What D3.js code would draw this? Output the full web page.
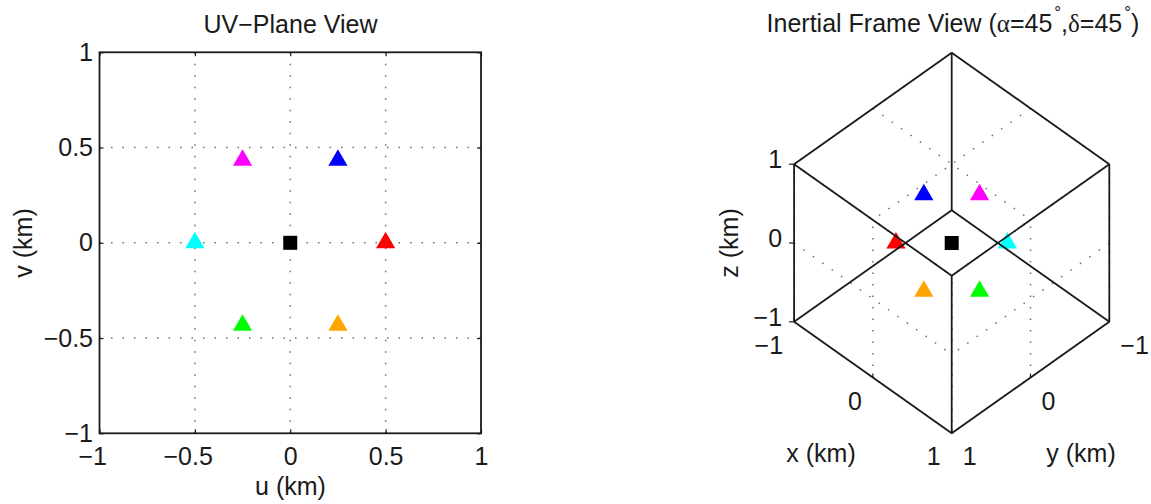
<!DOCTYPE html>
<html>
<head>
<meta charset="utf-8">
<script src="https://cdn.jsdelivr.net/npm/d3@7"></script>
<style>
  html, body { margin: 0; padding: 0; background: #fff; }
  svg { display: block; }
</style>
</head>
<body>
<svg id="chart" width="1151" height="504"></svg>
<script>
/* data */
// antenna positions in the uv plane (km), reference antenna first
const uValues = [0, 0.5, 0.25, -0.25, -0.5, -0.25, 0.25];
const vValues = [0, 0, 0.433, 0.433, 0, -0.433, -0.433];
const markerColors = ['#000000', '#ff0000', '#0000ff', '#ff00ff', '#00ffff', '#00ff00', '#ffa500'];
const markerShapes = ['square', 'triangle', 'triangle', 'triangle', 'triangle', 'triangle', 'triangle'];

const uvTicks = [-1, -0.5, 0, 0.5, 1];
const xyzTicks = [-1, 0, 1];

// source direction (deg)
const alphaDeg = 45;
const deltaDeg = 45;

/* common options */
const fontFamily = '"Liberation Sans", Arial, Helvetica, sans-serif';
const fontSize = 25;
const textColor = '#1a1a1a';
const lineColor = '#1a1a1a';
const gridColor = '#707070';
const fmt = d3.format('');

const stations = uValues.map((u, i) => ({u, v: vValues[i], color: markerColors[i], shape: markerShapes[i]}));

const triangle = d3.symbol(d3.symbolTriangle, 160);
const square = d3.symbol(d3.symbolSquare, 196);
const markerPath = d => (d.shape === 'square' ? square : triangle)();

const svg = d3.select('#chart');

/***********************************
  left : UV-plane view
***********************************/
const uvBox = {left: 99.5, right: 481, top: 52.3, bottom: 433.3};

const uvX = d3.scaleLinear().domain([-1, 1]).range([uvBox.left, uvBox.right]);
const uvY = d3.scaleLinear().domain([-1, 1]).range([uvBox.bottom, uvBox.top]);

const uvG = svg.append('g');

// dotted grid
const inner = uvTicks.filter(d => Math.abs(d) < 1);
const grid = uvG.append('g')
  .attr('stroke', gridColor)
  .attr('stroke-width', 1.5)
  .attr('stroke-dasharray', '1.5 10');
grid.selectAll('.gx').data(inner).join('line')
  .attr('x1', d => uvX(d)).attr('x2', d => uvX(d))
  .attr('y1', uvY(1)).attr('y2', uvY(-1));
grid.selectAll('.gy').data(inner).join('line')
  .attr('class', 'gy')
  .attr('y1', d => uvY(d)).attr('y2', d => uvY(d))
  .attr('x1', uvX(-1)).attr('x2', uvX(1));

const styleAxis = g => g
  .attr('font-size', fontSize)
  .attr('font-family', fontFamily)
  .attr('color', textColor)
  .call(g => g.select('.domain').remove())
  .call(g => g.selectAll('.tick line').attr('stroke-width', 1.2));

// axes (ticks inward like matlab)
uvG.append('g')
  .attr('transform', `translate(0,${uvBox.bottom})`)
  .call(d3.axisBottom(uvX).tickValues(uvTicks).tickFormat(fmt).tickSizeInner(-4).tickSizeOuter(0).tickPadding(14))
  .call(styleAxis)
  .call(g => g.selectAll('.tick text').filter(d => d < 0).attr('dx', '-0.29em'));

uvG.append('g')
  .attr('transform', `translate(${uvBox.left},0)`)
  .call(d3.axisLeft(uvY).tickValues(uvTicks).tickFormat(fmt).tickSizeInner(-4).tickSizeOuter(0).tickPadding(6.5))
  .call(styleAxis);

uvG.append('g')
  .attr('transform', `translate(0,${uvBox.top})`)
  .call(d3.axisTop(uvX).tickValues(uvTicks).tickFormat('').tickSizeInner(-4).tickSizeOuter(0))
  .call(styleAxis);

uvG.append('g')
  .attr('transform', `translate(${uvBox.right},0)`)
  .call(d3.axisRight(uvY).tickValues(uvTicks).tickFormat('').tickSizeInner(-4).tickSizeOuter(0))
  .call(styleAxis);

// markers
uvG.append('g').selectAll('path').data(stations).join('path')
  .attr('d', markerPath)
  .attr('fill', d => d.color)
  .attr('transform', d => `translate(${uvX(d.u)},${uvY(d.v)})`);

// box
uvG.append('rect')
  .attr('x', uvBox.left).attr('y', uvBox.top)
  .attr('width', uvBox.right - uvBox.left).attr('height', uvBox.bottom - uvBox.top)
  .attr('fill', 'none').attr('stroke', lineColor).attr('stroke-width', 1.8);

// titles / labels
const addText = (g, x, y, str, rotate) => g.append('text')
  .attr('transform', `translate(${x},${y})` + (rotate ? ` rotate(${rotate})` : ''))
  .attr('text-anchor', 'middle')
  .attr('font-family', fontFamily)
  .attr('font-size', fontSize)
  .attr('fill', textColor)
  .text(str);

addText(uvG, 290.5, 33, 'UV\u2212Plane View');
addText(uvG, 290.5, 495, 'u (km)');
addText(uvG, 32, 243, 'v (km)', -90);

/***********************************
  right : inertial frame (3D box)
***********************************/
const a = alphaDeg * Math.PI / 180;
const dl = deltaDeg * Math.PI / 180;

// screen basis seen along the line of sight
const eRight = [Math.sin(a), -Math.cos(a), 0];
const eUp = [-Math.sin(dl) * Math.cos(a), -Math.sin(dl) * Math.sin(a), Math.cos(dl)];
// east / north unit vectors of the uv plane
const eEast = [-Math.sin(a), Math.cos(a), 0];
const eNorth = eUp;

const dot = (p, q) => p[0] * q[0] + p[1] * q[1] + p[2] * q[2];

const cx = 951.7, cy = 243, k = 111.45;
const px = d3.scaleLinear().domain([-1, 1]).range([cx - k, cx + k]);
const py = d3.scaleLinear().domain([-1, 1]).range([cy + k, cy - k]);
const proj = p => [px(dot(p, eRight)), py(dot(p, eUp))];

const g3 = svg.append('g');

// back walls x=1, y=1, z=1 get the dotted grid
const grid3 = [];
xyzTicks.forEach(t => {
  grid3.push([[1, t, -1], [1, t, 1]], [[1, -1, t], [1, 1, t]]);
  grid3.push([[t, 1, -1], [t, 1, 1]], [[-1, 1, t], [1, 1, t]]);
  grid3.push([[t, -1, 1], [t, 1, 1]], [[-1, t, 1], [1, t, 1]]);
});
g3.append('g')
  .attr('stroke', gridColor)
  .attr('stroke-width', 1.5)
  .attr('stroke-dasharray', '1.5 10')
  .selectAll('line').data(grid3).join('line')
  .attr('x1', d => proj(d[0])[0]).attr('y1', d => proj(d[0])[1])
  .attr('x2', d => proj(d[1])[0]).attr('y2', d => proj(d[1])[1]);

// antennas placed in 3D, then projected
const pos3 = d => eEast.map((e, i) => d.u * e + d.v * eNorth[i]);
g3.append('g').selectAll('path').data(stations).join('path')
  .attr('d', markerPath)
  .attr('fill', d => d.color)
  .attr('transform', d => `translate(${proj(pos3(d))})`);

// cube edges
const corners = d3.cross([-1, 1], [-1, 1], [-1, 1]);
const edges = [];
corners.forEach((p, i) => corners.forEach((q, j) => {
  if (j > i && p.filter((c, n) => c !== q[n]).length === 1) edges.push([p, q]);
}));
g3.append('g')
  .attr('stroke', lineColor)
  .attr('stroke-width', 1.8)
  .selectAll('line').data(edges).join('line')
  .attr('x1', d => proj(d[0])[0]).attr('y1', d => proj(d[0])[1])
  .attr('x2', d => proj(d[1])[0]).attr('y2', d => proj(d[1])[1]);

// ticks and tick labels
const tickG = g3.append('g')
  .attr('font-family', fontFamily)
  .attr('font-size', fontSize)
  .attr('fill', textColor);

const axes3 = [
  {pt: t => [t, 1, -1], dx: -11, dy: 32, anchor: 'end', tick: [0, -4]},
  {pt: t => [1, t, -1], dx: 11, dy: 32, anchor: 'start', tick: [0, -4]},
  {pt: t => [-1, 1, t], dx: -12, dy: 4, anchor: 'end', tick: [-5, 0]}
];
axes3.forEach(ax => {
  const g = tickG.append('g');
  g.selectAll('line').data(xyzTicks).join('line')
    .attr('stroke', lineColor).attr('stroke-width', 1.2)
    .attr('x1', d => proj(ax.pt(d))[0]).attr('y1', d => proj(ax.pt(d))[1])
    .attr('x2', d => proj(ax.pt(d))[0] + ax.tick[0]).attr('y2', d => proj(ax.pt(d))[1] + ax.tick[1]);
  g.selectAll('text').data(xyzTicks).join('text')
    .attr('x', d => proj(ax.pt(d))[0] + ax.dx)
    .attr('y', d => proj(ax.pt(d))[1] + ax.dy)
    .attr('text-anchor', ax.anchor)
    .text(fmt);
});

addText(g3, 821, 461.5, 'x (km)');
addText(g3, 1081, 461.5, 'y (km)');
addText(g3, 738, 243, 'z (km)', -90);

// title with greek letters and degree marks
const title = g3.append('text')
  .attr('x', 953).attr('y', 31.7)
  .attr('text-anchor', 'middle')
  .attr('font-family', fontFamily)
  .attr('font-size', fontSize)
  .attr('fill', textColor);
const serif = '"Liberation Serif", "Times New Roman", serif';
title.append('tspan').text('Inertial Frame View (');
title.append('tspan').attr('font-family', serif).text('\u03b1');
title.append('tspan').text('=45');
title.append('tspan').attr('font-size', 17).attr('dx', 2).attr('dy', -14).text('\u00b0');
title.append('tspan').attr('dy', 14).text(',');
title.append('tspan').attr('font-family', serif).text('\u03b4');
title.append('tspan').text('=45');
title.append('tspan').attr('font-size', 17).attr('dx', 2).attr('dy', -14).text('\u00b0');
title.append('tspan').attr('dy', 14).text(')');
</script>
</body>
</html>
